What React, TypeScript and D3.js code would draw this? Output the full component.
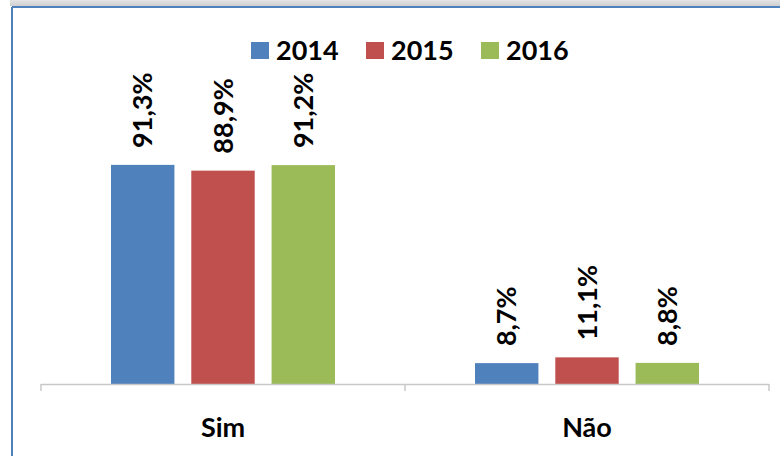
import React from 'react';
import * as d3 from 'd3';

const categories = ['Sim', 'Não'];
const years = ['2014', '2015', '2016'];
const values2014 = [91.3, 8.7];
const values2015 = [88.9, 11.1];
const values2016 = [91.2, 8.8];
const colors = ['#4f81bd', '#c0504d', '#9bbb59'];

const series = [values2014, values2015, values2016];
const fmt = (v: number) => v.toFixed(1).replace('.', ',') + '%';

const width = 780;
const height = 456;
const font = 'Lato, "Open Sans", sans-serif';

const App = () => {
  const baseY = 384;
  const x0 = d3.scaleBand().domain(categories).range([41, 769]);
  const bw = x0.bandwidth();
  const x1 = d3.scaleBand().domain(years).range([bw * 0.1923, bw * 0.8077]).paddingInner(0.21);
  const y = d3.scaleLinear().domain([0, 100]).range([baseY, 144]);

  const ticks = [...categories.map(c => x0(c) as number), 769];

  return (
    <svg width={width} height={height} style={{ position: 'absolute', left: 0, top: 0 }}>
      <defs>
        <linearGradient id="topShade" x1="0" y1="0" x2="0" y2="1">
          <stop offset="0" stopColor="#e4e4e4" />
          <stop offset="1" stopColor="#cfcfcf" />
        </linearGradient>
      </defs>
      <rect x={0} y={0} width={width} height={height} fill="#fff" />
      <rect x={10} y={0} width={width - 10} height={6} fill="url(#topShade)" />
      {/* chart border */}
      <line x1={12} x2={width} y1={7} y2={7} stroke="#4f81bd" strokeWidth={2} />
      <line x1={12} x2={12} y1={7} y2={height} stroke="#4f81bd" strokeWidth={2} />

      {/* legend */}
      {years.map((yr, i) => {
        const lx = [251, 366, 481][i];
        return (
          <g key={yr}>
            <rect x={lx} y={42} width={18} height={17} fill={colors[i]} />
            <text x={lx + 25} y={60} fontFamily={font} fontWeight="bold" fontSize={27} fill="#000">{yr}</text>
          </g>
        );
      })}

      {/* bars */}
      {categories.map((cat, ci) => (
        <g key={cat} transform={`translate(${x0(cat)},0)`}>
          {years.map((yr, si) => {
            const v = series[si][ci];
            const bx = x1(yr) as number;
            const cx = bx + x1.bandwidth() / 2;
            return (
              <g key={yr}>
                <rect x={bx} y={y(v)} width={x1.bandwidth()} height={baseY - y(v)} fill={colors[si]} />
                <text
                  transform={`translate(${cx},${y(v) - 17}) rotate(-90)`}
                  dy="0.36em"
                  fontFamily={font}
                  fontWeight="bold"
                  fontSize={27}
                  fill="#000"
                >
                  {fmt(v)}
                </text>
              </g>
            );
          })}
          <text x={bw / 2} y={437} textAnchor="middle" fontFamily={font} fontWeight="bold" fontSize={27} fill="#000">
            {cat}
          </text>
        </g>
      ))}

      {/* axis */}
      <line x1={41} x2={769} y1={baseY + 0.5} y2={baseY + 0.5} stroke="#c8c8c8" strokeWidth={1.5} />
      {ticks.map((t, i) => (
        <line key={i} x1={t} x2={t} y1={baseY} y2={baseY + 7} stroke="#c8c8c8" strokeWidth={1.5} />
      ))}
    </svg>
  );
};

export default App;
